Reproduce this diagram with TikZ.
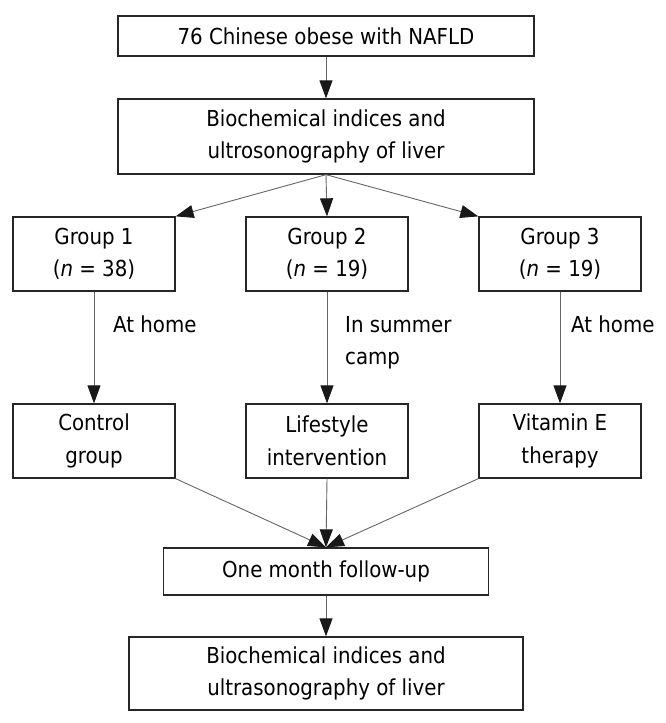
\documentclass[tikz,border=0pt]{standalone}
\usepackage{fontspec}
\setmainfont{DejaVu Sans Condensed}
\usetikzlibrary{arrows.meta}
\begin{document}
\begin{tikzpicture}[x=1pt,y=-1pt,
  txt/.style={font=\fontsize{22}{32.5}\selectfont},
  box/.style={txt, draw=black!85, line width=1.3pt, inner sep=0pt, align=center},
  gbox/.style={box, minimum width=162pt, minimum height=74pt},
  conn/.style={draw=black!60, line width=0.9pt, -{Triangle[length=18pt,width=13pt,color=black!90,fill=black!90]}},
  lab/.style={txt, inner sep=0pt, align=left}]
\useasboundingbox[fill=white] (0,0) rectangle (666,723);
\node[box, minimum width=416pt, minimum height=40pt] (b1) at (326,36) {76 Chinese obese with NAFLD};
\node[box, minimum width=416pt, minimum height=75pt] (b2) at (326,136.5) {Biochemical indices and\\ultrosonography of liver};
\node[gbox] (g1) at (94,254) {Group 1\\(\textit{n} = 38)};
\node[gbox] (g2) at (327,254) {Group 2\\(\textit{n} = 19)};
\node[gbox] (g3) at (560,254) {Group 3\\(\textit{n} = 19)};
\node[gbox] (r1) at (94,441) {Control\\group};
\node[gbox] (r2) at (327,441) {Lifestyle\\intervention};
\node[gbox] (r3) at (560,441) {Vitamin E\\therapy};
\node[box, minimum width=325pt, minimum height=47pt] (fu) at (326,571.5) {One month follow-up};
\node[box, minimum width=394pt, minimum height=73pt] (fin) at (326,673.5) {Biochemical indices and\\ultrasonography of liver};
\node[lab, anchor=base west] (l1) at (113,332) {At home};
\node[lab, anchor=north west] (l2) at (345,316) {In summer\\camp};
\node[lab, anchor=base west] (l3) at (571,332) {At home};
\draw[conn] (b1) -- (b2);
\draw[conn] (b2.south) -- (g1.north east);
\draw[conn] (b2.south) -- (g2.north);
\draw[conn] (b2.south) -- (g3.north west);
\draw[conn] (g1) -- (r1);
\draw[conn] (g2) -- (r2);
\draw[conn] (g3) -- (r3);
\draw[conn] (r1.south east) -- (fu.north);
\draw[conn] (r2.south) -- (fu.north);
\draw[conn] (r3.south west) -- (fu.north);
\draw[conn] (fu) -- (fin);
\end{tikzpicture}
\end{document}
